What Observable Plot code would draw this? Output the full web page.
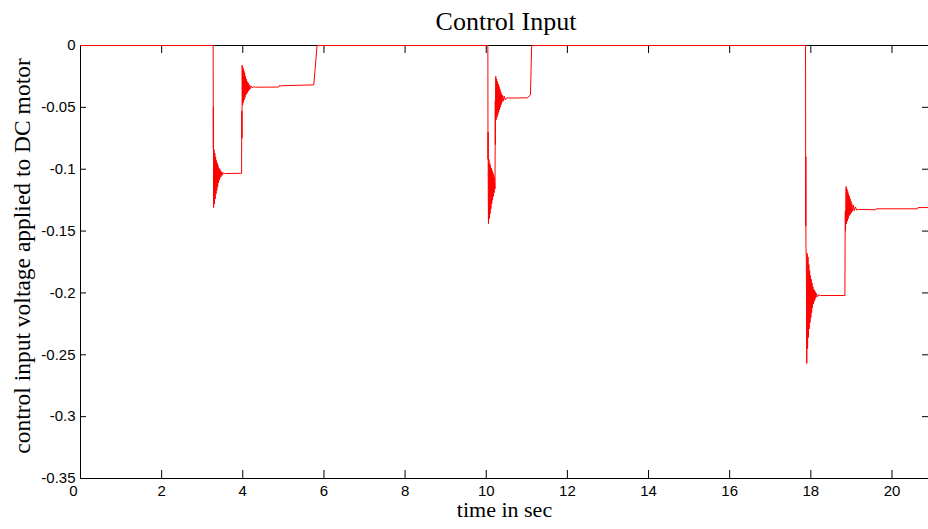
<!DOCTYPE html>
<html>
<head>
<meta charset="utf-8">
<script src="https://cdn.jsdelivr.net/npm/d3@7"></script>
<script src="https://cdn.jsdelivr.net/npm/@observablehq/plot@0.6"></script>
<style>
  html, body { margin: 0; padding: 0; background: #fff; overflow: hidden; }
  #title { height: 35px; box-sizing: border-box; padding-top: 9px; padding-left: 84px; width: 928px;
           text-align: center; font-family: "Liberation Serif", "Times New Roman", serif; font-size: 26px; line-height: 1; color: #000; }
  #chart svg { display: block; }
</style>
</head>
<body>
<div id="title"></div>
<div id="chart"></div>
<script>
const titleText = "Control Input";
const xLabel = "time in sec";
const yLabel = "control input voltage applied to DC motor";
const xTicks = [0, 2, 4, 6, 8, 10, 12, 14, 16, 18, 20];
const xTickLabels = ["0", "2", "4", "6", "8", "10", "12", "14", "16", "18", "20"];
const yTicks = [0, -0.05, -0.1, -0.15, -0.2, -0.25, -0.3, -0.35];
const yTickLabels = ["0", "-0.05", "-0.1", "-0.15", "-0.2", "-0.25", "-0.3", "-0.35"];
const xDomain = [0, 20.9];
const yDomain = [-0.35, 0];

// event 1 (drop near 3.27 s, step up near 3.97 s, release near 5.8 s)
const time1 = [0, 3.27, 3.272, 3.274, 3.276, 3.278,
  3.28, 3.29, 3.30, 3.31, 3.32, 3.33, 3.34, 3.35, 3.36, 3.37, 3.38, 3.39, 3.40, 3.41, 3.42, 3.43, 3.44, 3.45, 3.46, 3.47, 3.48, 3.49, 3.50, 3.52, 3.55,
  3.97, 3.975, 3.98, 3.985, 3.995, 4.005, 4.015, 4.025, 4.035, 4.045, 4.055, 4.065, 4.075, 4.085, 4.095, 4.105, 4.115, 4.125, 4.135, 4.145, 4.155,
  4.17, 4.19, 4.21, 4.24, 4.27, 4.31, 4.88, 4.89, 5.75, 5.83];
const volt1 = [0, 0, -0.045, -0.083, -0.05, -0.085,
  -0.131, -0.084, -0.128, -0.087, -0.124, -0.090, -0.120, -0.093, -0.117, -0.095, -0.114, -0.097, -0.111, -0.099, -0.109, -0.100, -0.107, -0.101, -0.106, -0.102, -0.105, -0.1025, -0.1045, -0.103, -0.1035,
  -0.1033, -0.053, -0.075, -0.016, -0.048, -0.018, -0.046, -0.020, -0.044, -0.022, -0.042, -0.025, -0.040, -0.027, -0.039, -0.029, -0.038, -0.030, -0.037, -0.031, -0.036,
  -0.032, -0.035, -0.0328, -0.0343, -0.0333, -0.0337, -0.0336, -0.0326, -0.0318, 0];

// event 2 (drop near 10.04 s, step up near 10.22 s, release near 11.1 s)
const time2 = [10.04, 10.042, 10.044, 10.046, 10.05, 10.055, 10.065, 10.075, 10.085, 10.095, 10.105, 10.115, 10.125, 10.135, 10.145, 10.155, 10.165, 10.175, 10.185, 10.195, 10.205, 10.215,
  10.22, 10.223, 10.226, 10.229, 10.235, 10.245, 10.255, 10.265, 10.275, 10.285, 10.295, 10.305, 10.315, 10.325, 10.335, 10.345, 10.355, 10.365, 10.375, 10.385,
  10.40, 10.42, 10.44, 10.47, 10.51, 10.55, 11.01, 11.09, 11.12];
const volt2 = [0, -0.06, -0.092, -0.07, -0.12, -0.144, -0.092, -0.140, -0.095, -0.136, -0.097, -0.132, -0.099, -0.128, -0.101, -0.125, -0.103, -0.122, -0.105, -0.119, -0.107, -0.116,
  -0.082, -0.045, -0.080, -0.047, -0.025, -0.060, -0.027, -0.058, -0.029, -0.056, -0.031, -0.054, -0.033, -0.052, -0.035, -0.050, -0.037, -0.048, -0.039, -0.046,
  -0.040, -0.045, -0.041, -0.044, -0.0422, -0.0425, -0.0423, -0.040, 0];

// event 3 (drop near 17.87 s, step up near 18.84 s, holds to the end)
const time3 = [17.87, 17.872, 17.874, 17.876, 17.878, 17.88, 17.89, 17.90, 17.91, 17.92, 17.93, 17.94, 17.95, 17.96, 17.97, 17.98, 17.99, 18.00, 18.01, 18.02, 18.03, 18.04, 18.05, 18.06, 18.07, 18.08, 18.09, 18.10, 18.11, 18.12, 18.14, 18.16, 18.19, 18.24,
  18.84, 18.845, 18.85, 18.855, 18.86, 18.87, 18.88, 18.89, 18.90, 18.91, 18.92, 18.93, 18.94, 18.95, 18.96, 18.97, 18.98, 18.99, 19.00, 19.01, 19.03, 19.05, 19.07, 19.10, 19.13, 19.18,
  19.60, 19.61, 20.63, 20.64, 20.9];
const volt3 = [0, -0.083, -0.146, -0.09, -0.145, -0.162, -0.175, -0.257, -0.168, -0.245, -0.171, -0.236, -0.177, -0.229, -0.182, -0.224, -0.186, -0.220, -0.189, -0.216, -0.192, -0.212, -0.195, -0.209, -0.197, -0.207, -0.198, -0.2055, -0.199, -0.204, -0.2005, -0.2032, -0.2015, -0.2021,
  -0.2021, -0.153, -0.134, -0.150, -0.132, -0.114, -0.144, -0.116, -0.142, -0.118, -0.140, -0.120, -0.138, -0.122, -0.137, -0.124, -0.136, -0.126, -0.135, -0.128, -0.134, -0.129, -0.1335, -0.1305, -0.1330, -0.1325,
  -0.1328, -0.1320, -0.1320, -0.1310, -0.1310];

const time = [...time1, ...time2, ...time3];
const voltage = [...volt1, ...volt2, ...volt3];
const data = time.map((t, i) => ({t, u: voltage[i]}));

document.getElementById("title").textContent = titleText;

const W = 928, H = 494;
const mL = 80, mR = 0, mT = 10, mB = 51;
const plotW = W - mL - mR, plotH = H - mT - mB;
const sans = "'Liberation Sans', Arial, sans-serif";
const serif = "'Liberation Serif', 'Times New Roman', serif";

const chart = Plot.plot({
  width: W, height: H,
  marginLeft: mL, marginRight: mR, marginTop: mT, marginBottom: mB,
  x: {domain: xDomain},
  y: {domain: yDomain},
  style: {background: "#fff", color: "#000", overflow: "visible"},
  marks: [
    Plot.frame({stroke: "#000", strokeWidth: 1}),
    Plot.tickX(xTicks, {x: d => d, stroke: "#000", insetTop: plotH - 8}),
    Plot.tickX(xTicks, {x: d => d, stroke: "#000", insetBottom: plotH - 8}),
    Plot.tickY(yTicks, {y: d => d, stroke: "#000", insetRight: plotW - 6}),
    Plot.tickY(yTicks, {y: d => d, stroke: "#000", insetLeft: plotW - 6}),
    Plot.axisX({ticks: xTicks.slice(1), tickSize: 0, tickPadding: 7, tickFormat: d => xTickLabels[xTicks.indexOf(d)],
                fontSize: 15, fontFamily: sans, label: null}),
    Plot.text([0], {x: d => xTicks[d], text: d => xTickLabels[d], frameAnchor: "bottom", lineAnchor: "top",
                dx: -7, dy: 7, fontSize: 15, fontFamily: sans, fill: "#000"}),
    Plot.axisY({ticks: yTicks, tickSize: 0, tickPadding: 5, tickFormat: d => yTickLabels[yTicks.indexOf(d)],
                fontSize: 15, fontFamily: sans, label: null}),
    Plot.text([xLabel], {frameAnchor: "bottom", dy: 38.5, fontSize: 22, fontFamily: serif, fill: "#000"}),
    Plot.text([yLabel], {frameAnchor: "left", textAnchor: "middle", lineAnchor: "middle", rotate: -90, dx: -58, dy: -6,
                fontSize: 23.5, fontFamily: serif, fill: "#000"}),
    Plot.line(data, {x: "t", y: "u", stroke: "#ff0000", strokeWidth: 1, clip: true})
  ]
});
document.getElementById("chart").appendChild(chart);
</script>
</body>
</html>
